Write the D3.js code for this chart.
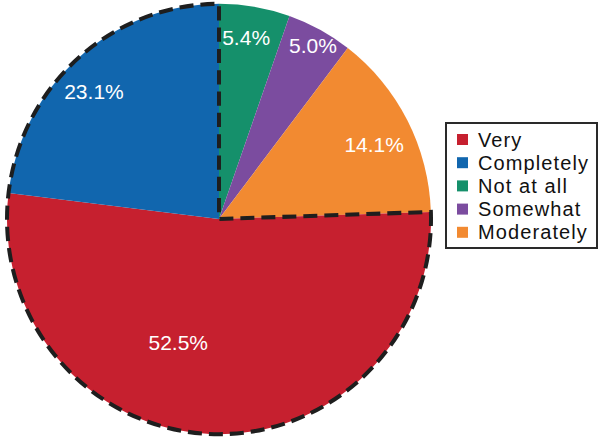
<!DOCTYPE html>
<html>
<head>
<meta charset="utf-8">
<script src="https://cdn.jsdelivr.net/npm/d3@7"></script>
<style>
  body { margin: 0; background: #fff; }
  text { font-family: "Liberation Sans", Arial, sans-serif; }
</style>
</head>
<body>
<script>
// data (pie order, clockwise from 12 o'clock)
var categories = ["Not at all", "Somewhat", "Moderately", "Very", "Completely"];
var values = [5.4, 5.0, 14.1, 52.5, 23.1];
var legendOrder = ["Very", "Completely", "Not at all", "Somewhat", "Moderately"];

var colors = d3.scaleOrdinal()
    .domain(categories)
    .range(["#15906b", "#7b4c9f", "#f28a31", "#c6202f", "#1166ae"]);

// label placement (radius factor, angle nudge in degrees)
var labelR = [0.855, 0.92, 0.81, 0.605, 0.835];
var labelNudge = [-1.1, 0.4, 1.9, 16, -3.4];

var W = 600, H = 440;
var cx = 219, cy = 219, r = 212, sy = 1.015;

var svg = d3.select("body").append("svg")
    .attr("width", W)
    .attr("height", H);

var pie = d3.pie().sort(null).value(function(d) { return d; });
var arcs = pie(values);
var arc = d3.arc().innerRadius(0).outerRadius(r);

var g = svg.append("g")
    .attr("transform", "translate(" + cx + "," + cy + ") scale(1," + sy + ")");

g.selectAll(".slice")
    .data(arcs)
    .enter().append("path")
    .attr("class", "slice")
    .attr("d", arc)
    .attr("fill", function(d, i) { return colors(categories[i]); });

// dashed outline around Very + Completely
var vi = categories.indexOf("Very"), ci = categories.indexOf("Completely");
g.append("path")
    .attr("d", arc({ startAngle: arcs[vi].startAngle, endAngle: arcs[ci].endAngle }))
    .attr("fill", "none")
    .attr("stroke", "#1e1e1e")
    .attr("stroke-width", 4)
    .attr("stroke-dasharray", "14,7");

// percent labels
svg.selectAll(".plabel")
    .data(arcs)
    .enter().append("text")
    .attr("class", "plabel")
    .attr("x", function(d, i) {
        var a = (d.startAngle + d.endAngle) / 2 + labelNudge[i] * Math.PI / 180;
        return cx + Math.sin(a) * r * labelR[i];
    })
    .attr("y", function(d, i) {
        var a = (d.startAngle + d.endAngle) / 2 + labelNudge[i] * Math.PI / 180;
        return cy - Math.cos(a) * r * labelR[i] * sy;
    })
    .attr("dy", "0.36em")
    .attr("text-anchor", "middle")
    .attr("fill", "#fff")
    .attr("font-size", "21px")
    .text(function(d) { return d.data.toFixed(1) + "%"; });

// legend
var lg = svg.append("g").attr("transform", "translate(446,123)");
lg.append("rect")
    .attr("width", 151)
    .attr("height", 125)
    .attr("fill", "#fff")
    .attr("stroke", "#2a2a2a")
    .attr("stroke-width", 2);

var rows = lg.selectAll(".row")
    .data(legendOrder)
    .enter().append("g")
    .attr("class", "row")
    .attr("transform", function(d, i) { return "translate(0," + (16.5 + i * 23.2) + ")"; });

rows.append("rect")
    .attr("x", 11)
    .attr("y", -5.5)
    .attr("width", 11)
    .attr("height", 11)
    .attr("fill", function(d) { return colors(d); });

rows.append("text")
    .attr("x", 32)
    .attr("y", 7)
    .attr("font-size", "20px")
    .attr("letter-spacing", "1.1px")
    .attr("fill", "#111")
    .text(function(d) { return d; });
</script>
</body>
</html>
